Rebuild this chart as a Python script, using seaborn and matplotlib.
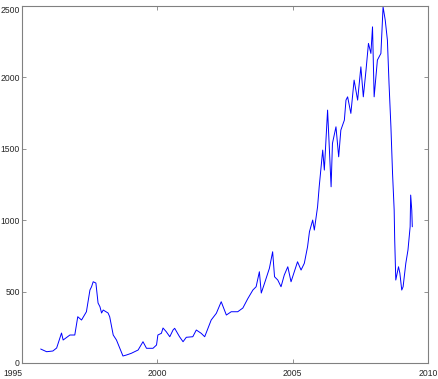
import pandas as pd
import matplotlib
matplotlib.use("Agg")
import matplotlib.pyplot as plt
from matplotlib import font_manager
import seaborn as sns

# values (decimal year, price)
years = [1995.69, 1995.91, 1996.14, 1996.28, 1996.46, 1996.52, 1996.77, 1996.95,
         1997.06, 1997.20, 1997.38, 1997.51, 1997.57, 1997.63, 1997.73, 1997.81,
         1997.88, 1997.94, 1998.00, 1998.18, 1998.24, 1998.37, 1998.49, 1998.61,
         1998.73, 1998.86, 1999.04, 1999.29, 1999.47, 1999.60, 1999.84, 1999.97,
         2000.02, 2000.15, 2000.21, 2000.33, 2000.46, 2000.58, 2000.64, 2000.82,
         2000.95, 2001.07, 2001.31, 2001.44, 2001.62, 2001.75, 2001.99, 2002.18,
         2002.36, 2002.55, 2002.73, 2002.97, 2003.16, 2003.34, 2003.53, 2003.65,
         2003.77, 2003.84, 2003.96, 2004.14, 2004.26, 2004.33, 2004.45, 2004.57,
         2004.69, 2004.82, 2004.94, 2005.06, 2005.18, 2005.31, 2005.43, 2005.55,
         2005.62, 2005.74, 2005.80, 2005.92, 2005.98, 2006.11, 2006.17, 2006.29,
         2006.42, 2006.47, 2006.60, 2006.70, 2006.78, 2006.91, 2006.97, 2007.03,
         2007.15, 2007.27, 2007.40, 2007.52, 2007.61, 2007.71, 2007.80, 2007.89,
         2007.95, 2008.01, 2008.13, 2008.26, 2008.34, 2008.42, 2008.50, 2008.56,
         2008.63, 2008.69, 2008.75, 2008.77, 2008.81, 2008.91, 2008.96, 2009.03,
         2009.08, 2009.18, 2009.26, 2009.34, 2009.36, 2009.40, 2009.42]
price = [98, 79, 84, 105, 210, 161, 196, 196,
         324, 301, 359, 511, 534, 569, 560, 420,
         394, 350, 371, 350, 324, 196, 161, 105,
         49, 56, 68, 91, 149, 103, 103, 126,
         196, 208, 245, 219, 184, 231, 243, 184,
         149, 180, 184, 231, 208, 184, 301, 348,
         429, 336, 359, 359, 385, 450, 511, 534,
         639, 490, 558, 663, 779, 604, 581, 534,
         616, 674, 569, 639, 709, 651, 698, 814,
         919, 1001, 931, 1094, 1234, 1491, 1351, 1771,
         1234, 1538, 1654, 1444, 1631, 1701, 1841, 1864,
         1748, 1981, 1841, 2074, 1864, 2051, 2238, 2168,
         2354, 1864, 2121, 2168, 2494, 2401, 2261, 1958,
         1654, 1328, 1071, 861, 581, 674, 630, 511,
         534, 698, 791, 954, 1176, 1071, 954]

xticks = [1995, 2000, 2005, 2010]
yticks = [0, 500, 1000, 1500, 2000, 2500]

df = pd.DataFrame({"year": years, "price": price})

sns.set_style("white")

try:
    font_manager.findfont("Liberation Sans Narrow", fallback_to_default=False)
    plt.rcParams["font.family"] = ["Liberation Sans Narrow", "DejaVu Sans"]
except ValueError:
    plt.rcParams["font.family"] = ["Liberation Sans", "DejaVu Sans"]

fig = plt.figure(figsize=(4.38, 3.79), dpi=100)
ax = fig.add_axes([22 / 438, 16 / 379, 406 / 438, 357 / 379])
sns.lineplot(data=df, x="year", y="price", ax=ax, color="#0000ff", linewidth=0.7)

ax.set_xlim(1995, 2010)
ax.set_ylim(0, 2500)
ax.set_xticks(xticks)
ax.set_yticks(yticks)
ax.set_xlabel("")
ax.set_ylabel("")
ax.tick_params(direction="in", length=3, width=0.6, color="#808080",
               top=True, right=True, bottom=True, left=True)
ax.tick_params(axis="y", pad=1.5)
ax.tick_params(axis="x", pad=4)
for s in ax.spines.values():
    s.set_color("#808080")
    s.set_linewidth(0.8)

# shrink the tick labels until "2500" fits left of the axis
fsize = 9.0
while fsize > 5:
    ax.tick_params(labelsize=fsize)
    fig.canvas.draw()
    bb = ax.get_yticklabels()[-1].get_window_extent()
    if bb.x0 >= 0.5:
        break
    fsize -= 0.25

xl = ax.get_xticklabels()
xl[0].set_horizontalalignment("right")
yl = ax.get_yticklabels()
yl[-1].set_verticalalignment("top")

fig.savefig("out.png", dpi=100)
